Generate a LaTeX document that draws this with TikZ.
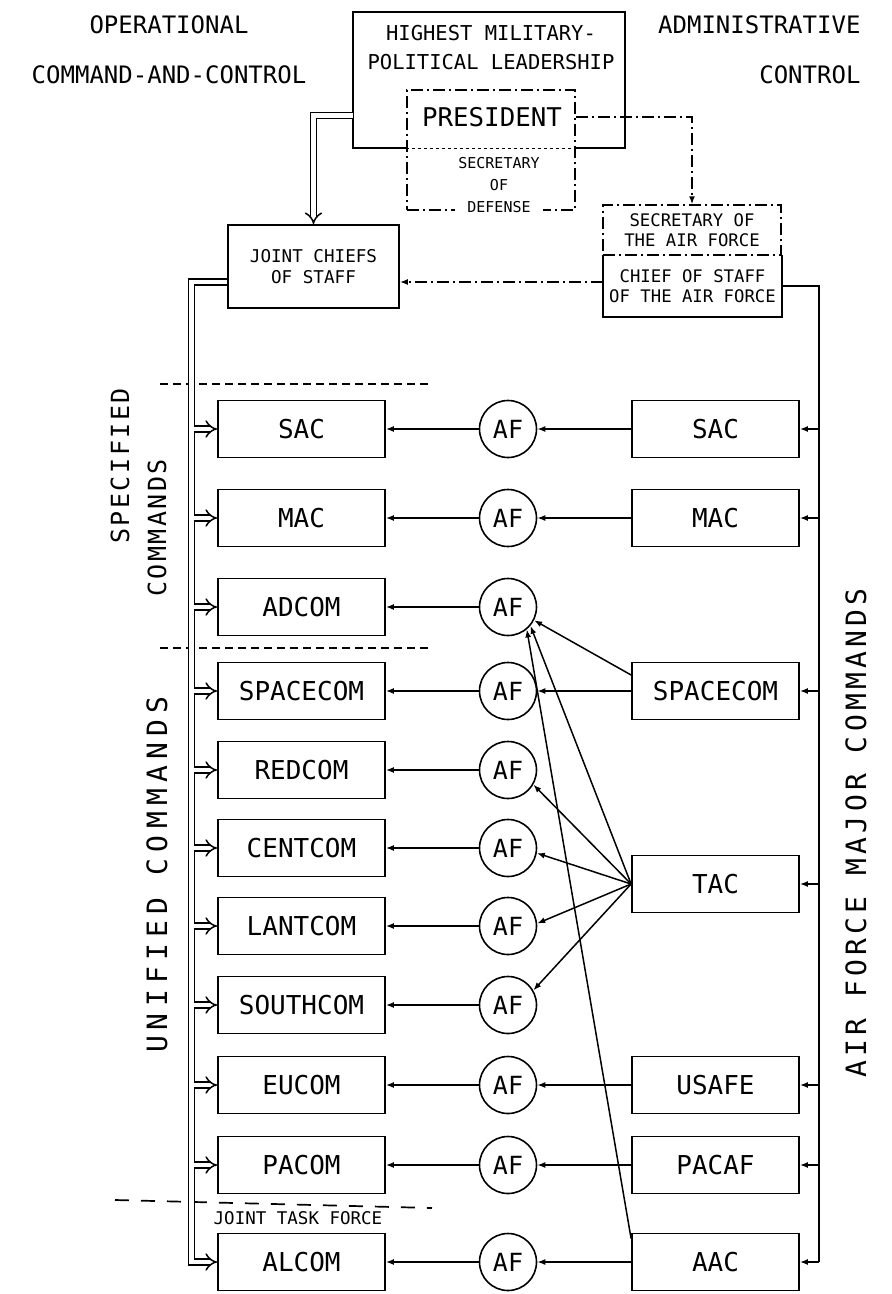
\documentclass[tikz,border=0pt]{standalone}
\usepackage{fontspec}
\newfontfamily\gothic{DejaVu Sans Mono}
\newfontfamily\gothicwide[LetterSpace=22]{DejaVu Sans Mono}
\newfontfamily\gothicmore[LetterSpace=15]{DejaVu Sans Mono}
\newfontfamily\gothicmid[LetterSpace=10]{DejaVu Sans Mono}
\usetikzlibrary{arrows.meta}

\begin{document}
\begin{tikzpicture}[x=1pt,y=-1pt,
  every node/.style={font=\gothic},
  cmdbox/.style={draw, line width=1.8pt, minimum width=167pt, minimum height=57pt, inner sep=0pt, font=\gothic\fontsize{26}{30}\selectfont},
  afnode/.style={circle, draw, line width=1.6pt, minimum size=57pt, inner sep=0pt, font=\gothic\fontsize{25}{30}\selectfont},
  tobox/.style={line width=1.5pt, -{Latex[length=8pt,width=6pt]}},
  dbl/.style={double, double distance=4.5pt, line width=1.5pt, -{Implies}},
  sep/.style={line width=1.7pt, dash pattern=on 8pt off 5pt},
  dashdot/.style={dash pattern=on 12pt off 4pt on 2pt off 4pt},
  title/.style={font=\gothic\fontsize{24}{50}\selectfont},
  side/.style={rotate=90, font=\gothicmid\fontsize{25}{30}\selectfont}
]
\useasboundingbox (0,0) rectangle (892,1294);
% headings
\node[title, align=center] (opctl) at (169,50) {OPERATIONAL\\COMMAND-AND-CONTROL};
\node[title, align=right, anchor=east] (admctl) at (864,50) {ADMINISTRATIVE\\CONTROL};

% top leadership
\node (hml) [minimum width=272pt, minimum height=136pt] at (489,80) {};
\node[align=center, font=\gothic\fontsize{20.5}{29}\selectfont] (hmltext) at (491,48) {HIGHEST MILITARY-\\POLITICAL LEADERSHIP};
\node[draw, dashdot, line width=1.4pt, minimum width=168pt, minimum height=120pt] (pres) at (491,150) {};
\draw[line width=1.8pt] (hml.south -| pres.west) -- (hml.south west) -- (hml.north west)
  -- (hml.north east) -- (hml.south east) -- (hml.south -| pres.east);
\draw[line width=1.4pt, dashed] (hml.south -| pres.west) -- (hml.south -| pres.east);
\node[font=\gothic\fontsize{25.8}{30}\selectfont] (prestext) at (492,117) {PRESIDENT};
\node[fill=white, inner sep=3pt, align=center, font=\gothic\fontsize{15}{22}\selectfont] (secdef) at (499,185) {SECRETARY\\OF\\DEFENSE};

% joint chiefs and air force staff
\node[draw, line width=1.8pt, minimum width=171pt, minimum height=83pt, align=center,
  font=\gothic\fontsize{17.6}{21}\selectfont] (jcs) at (313.5,266.5) {JOINT CHIEFS\\OF STAFF};
\node[draw, dashdot, line width=1.5pt, minimum width=178pt, minimum height=50pt, align=center,
  font=\gothic\fontsize{17.3}{20}\selectfont] (secaf) at (692,230) {SECRETARY OF\\THE AIR FORCE};
\node[minimum width=179pt, minimum height=62pt, align=center,
  font=\gothic\fontsize{17.3}{20}\selectfont] (cos) at (692.5,286) {CHIEF OF STAFF\\OF THE AIR FORCE};
\draw[line width=1.8pt] (cos.north west) -- (cos.south west) -- (cos.south east) -- (cos.north east);

\draw[dbl] ([yshift=-35.5pt]hml.west) -| (jcs.north);
\draw[dashdot, tobox] (pres.east |- prestext) -| (secaf.north);
\coordinate (cosin) at ([yshift=4pt]cos.west);
\draw[dashdot, tobox] (cosin) -- (cosin -| jcs.east);

% separators
\draw[sep] (160,384) -- (432,384);
\draw[sep] (160,648) -- (432,648);
\draw[line width=1.7pt, dash pattern=on 14pt off 12pt] (115,1200) -- (432,1208);
\node[font=\gothic\fontsize{17.5}{20}\selectfont] (jtf) at (298,1218) {JOINT TASK FORCE};

% side labels
\node[side] (spec) at (120,466) {SPECIFIED};
\node[side] (speccmd) at (157,528) {COMMANDS};
\node[side, font=\gothicwide\fontsize{28}{30}\selectfont] (unif) at (157,875) {UNIFIED COMMANDS};
\node[side, font=\gothicmore\fontsize{28}{30}\selectfont] (afmaj) at (856,833) {AIR FORCE MAJOR COMMANDS};

% operational commands and their air force components
\foreach \n/\t/\y in {sac/SAC/429, mac/MAC/518, adcom/ADCOM/607, spacecom/SPACECOM/691,
  redcom/REDCOM/770, centcom/CENTCOM/848, lantcom/LANTCOM/926, southcom/SOUTHCOM/1005,
  eucom/EUCOM/1085, pacom/PACOM/1165, alcom/ALCOM/1262}
{
  \node[cmdbox] (\n) at (301.5,\y) {\t};
  \node[afnode] (af\n) at (508,\y) {AF};
  \draw[tobox] (af\n) -- (\n);
}

% air force major commands
\coordinate (rbus) at (819,0);
\foreach \n/\t/\y/\to in {sacr/SAC/429/sac, macr/MAC/518/mac, spacer/SPACECOM/691/spacecom,
  usafe/USAFE/1085/eucom, pacaf/PACAF/1165/pacom, aac/AAC/1262/alcom}
{
  \node[cmdbox] (\n) at (715.5,\y) {\t};
  \draw[tobox] (\n) -- (af\to);
  \draw[tobox] (\n.east -| rbus) -- (\n.east);
}
\node[cmdbox] (tac) at (715.5,884) {TAC};
\draw[tobox] (tac.east -| rbus) -- (tac.east);
\draw[line width=1.5pt] (cos.east) -- (cos.east -| rbus) -- (rbus |- aac.east);

% cross assignments
\draw[tobox] ([yshift=16pt]spacer.west) -- (afadcom.-27);
\draw[tobox] (tac.west) -- (afadcom.-40);
\draw[tobox] ([yshift=-6pt]aac.north west) -- (afadcom.-50);
\foreach \t/\a in {redcom/-30, centcom/-10, lantcom/5, southcom/30}
  \draw[tobox] (tac.west) -- (af\t.\a);

% joint chiefs bus
\coordinate (lbus) at (191.5,282);
\coordinate (lbusin) at (194,0);
\draw[dbl] ([yshift=-15.5pt]jcs.west) -- (lbus) |- (alcom.west);
\foreach \n in {sac, mac, adcom, spacecom, redcom, centcom, lantcom, southcom, eucom, pacom}
  \draw[dbl] (\n.west -| lbusin) -- (\n.west);
\end{tikzpicture}
\end{document}
